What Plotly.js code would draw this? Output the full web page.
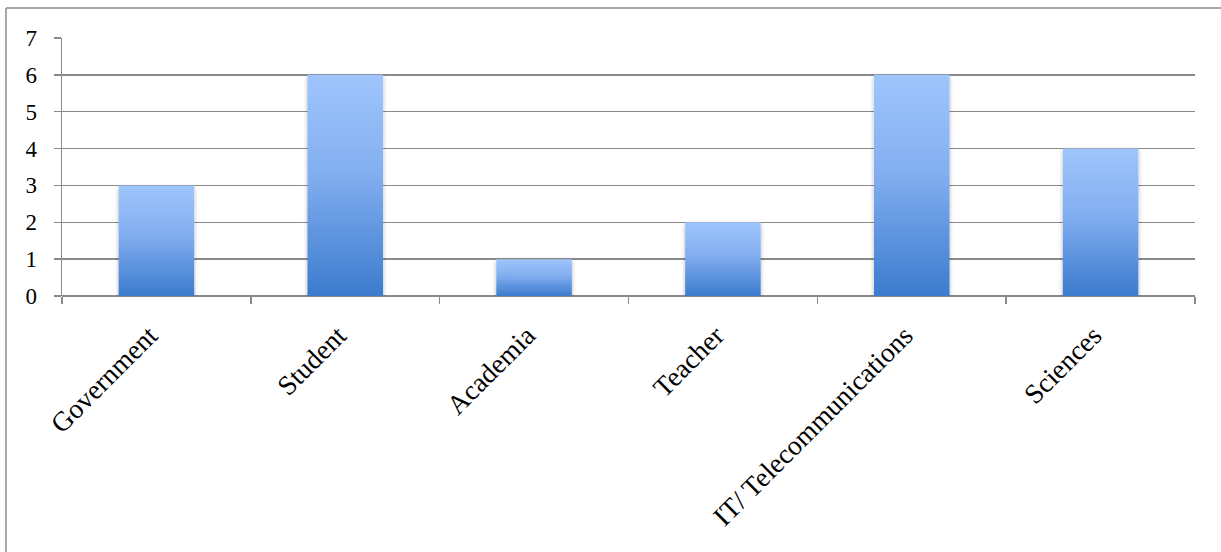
<!DOCTYPE html>
<html>
<head>
<meta charset="utf-8">
<script src="https://cdn.plot.ly/plotly-3.0.1.min.js"></script>
<style>
html,body{margin:0;padding:0;background:#fff;}
#chart{width:1221px;height:552px;}
</style>
</head>
<body>
<div id="chart"></div>
<script>
const categories = ["Government", "Student", "Academia", "Teacher", "IT/ Telecommunications", "Sciences"];
const counts = [3, 6, 1, 2, 6, 4];
const yTicks = [0, 1, 2, 3, 4, 5, 6, 7];

const gridColor = "#8a8a8a";
const fontFam = "Liberation Serif, DejaVu Serif, serif";

const trace = {
  type: "bar",
  x: categories,
  y: counts,
  marker: {color: "#6a9fe6", line: {width: 0}},
  hoverinfo: "x+y"
};

const layout = {
  width: 1221,
  height: 552,
  margin: {l: 62, r: 26, t: 38, b: 256, pad: 0},
  paper_bgcolor: "#ffffff",
  plot_bgcolor: "#ffffff",
  bargap: 0.6,
  showlegend: false,
  font: {family: fontFam, size: 23, color: "#000"},
  xaxis: {
    type: "category",
    tickangle: -45,
    tickson: "boundaries",
    ticks: "outside",
    ticklen: 7,
    tickwidth: 1.5,
    tickcolor: gridColor,
    showline: false,
    showgrid: false,
    zeroline: false,
    tickfont: {family: fontFam, size: 27.5, color: "#000"},
    ticklabelstandoff: 17,
    ticklabelshift: -7
  },
  yaxis: {
    range: [0, 7],
    tickvals: yTicks,
    ticktext: yTicks.map(String),
    ticks: "outside",
    ticklen: 7,
    tickwidth: 1.5,
    tickcolor: gridColor,
    showline: true,
    linecolor: gridColor,
    linewidth: 1.5,
    showgrid: true,
    gridcolor: gridColor,
    gridwidth: 1.5,
    zeroline: true,
    zerolinecolor: gridColor,
    zerolinewidth: 1.5,
    tickfont: {family: fontFam, size: 23, color: "#000"},
    ticklabelstandoff: 12,
    fixedrange: true
  },
  shapes: [
    {type: "line", xref: "paper", yref: "paper", x0: -56/1133, x1: 1.1, y0: 1 + 30/258, y1: 1 + 30/258,
     line: {color: "#8c8c8c", width: 1.5}},
    {type: "line", xref: "paper", yref: "paper", x0: -56/1133, x1: -56/1133, y0: 1 + 30/258, y1: -1.2,
     line: {color: "#8c8c8c", width: 1.5}}
  ]
};

Plotly.newPlot("chart", [trace], layout, {displayModeBar: false, staticPlot: true}).then(function(gd){
  const svg = gd.querySelector("svg.main-svg");
  const ns = "http://www.w3.org/2000/svg";
  let defs = svg.querySelector("defs");
  if (!defs) { defs = document.createElementNS(ns, "defs"); svg.insertBefore(defs, svg.firstChild); }
  const grad = document.createElementNS(ns, "linearGradient");
  grad.setAttribute("id", "barGrad");
  grad.setAttribute("x1", "0"); grad.setAttribute("y1", "0");
  grad.setAttribute("x2", "0"); grad.setAttribute("y2", "1");
  [["0%", "#9fc5fc"], ["45%", "#82aef0"], ["100%", "#3b7bcd"]].forEach(function(s){
    const st = document.createElementNS(ns, "stop");
    st.setAttribute("offset", s[0]); st.setAttribute("stop-color", s[1]);
    grad.appendChild(st);
  });
  defs.appendChild(grad);
  const filt = document.createElementNS(ns, "filter");
  filt.setAttribute("id", "barShadow");
  filt.setAttribute("x", "-20%"); filt.setAttribute("y", "-10%");
  filt.setAttribute("width", "140%"); filt.setAttribute("height", "130%");
  const ds = document.createElementNS(ns, "feDropShadow");
  ds.setAttribute("dx", "0"); ds.setAttribute("dy", "2");
  ds.setAttribute("stdDeviation", "2"); ds.setAttribute("flood-color", "#000");
  ds.setAttribute("flood-opacity", "0.3");
  filt.appendChild(ds);
  defs.appendChild(filt);
  gd.querySelectorAll(".bars .point path").forEach(function(p){
    p.style.fill = "url(#barGrad)";
    p.setAttribute("filter", "url(#barShadow)");
  });
});
</script>
</body>
</html>
